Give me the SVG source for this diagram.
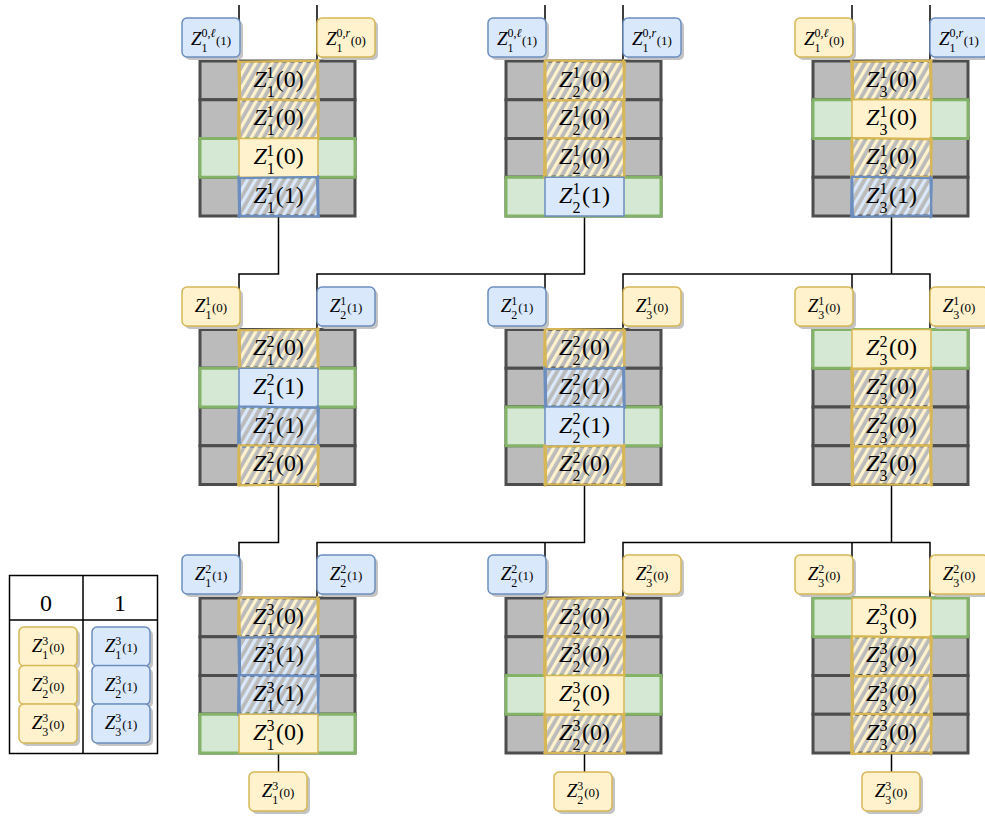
<svg xmlns="http://www.w3.org/2000/svg" xmlns:xlink="http://www.w3.org/1999/xlink" width="985" height="817" viewBox="0 0 985 817">
<style>
  .gr{fill:#bbbbbb;stroke:#4d4d4d;stroke-width:3}
  .gn{fill:#d5e8d4;stroke:#82b366;stroke-width:3}
  .cy{fill:#fff2cc;stroke:#d6b656;stroke-width:1.5}
  .cb{fill:#dae8fc;stroke:#6c8ebf;stroke-width:1.5}
  .ly{fill:#fff2cc;stroke:#d6b656;stroke-width:1.5}
  .lb{fill:#dae8fc;stroke:#6c8ebf;stroke-width:1.5}
  .sh{fill:#c4c4c4}
  .sk{fill:none;stroke-width:2.2;stroke-linecap:round}
  .wy{stroke:#d6b656}
  .wb{stroke:#6c8ebf}
  .ct{font-family:"Liberation Serif",serif;font-size:24px;text-anchor:middle;fill:#000}
  .lt{font-family:"Liberation Serif",serif;font-size:19px;text-anchor:middle;fill:#000}
  .s{font-size:16px}
  .ls{font-size:12px}
  .lp{font-size:13px}
  .i{font-style:italic}
  .cn{fill:none;stroke:#000;stroke-width:1.5}
  .lg{fill:none;stroke:#000;stroke-width:1.5}
  .hd{font-family:"Liberation Serif",serif;font-size:24px;text-anchor:middle}
</style>
<defs>
  <pattern id="pY" patternUnits="userSpaceOnUse" width="7" height="10" patternTransform="rotate(30)">
    <rect x="0" y="0" width="3.2" height="10" fill="#fff2cc"/>
  </pattern>
  <pattern id="pB" patternUnits="userSpaceOnUse" width="7" height="10" patternTransform="rotate(30)">
    <rect x="0" y="0" width="3.2" height="10" fill="#dae8fc"/>
  </pattern>
  <path id="skA" d="M-1,0.8 L79.8,-0.3 M79,-1.2 L79.6,39.8 M78,0.5 L78.8,38.6 M80,39.2 L-0.8,38.4 M0.2,40 L-0.6,-0.8 M1,38 L0.8,1.5"/>
  <path id="skB" d="M0,-0.6 L80,0.9 M78.4,-1 L79.5,39 M79.8,1 L78.9,40.2 M79,38.2 L-1,39.6 M0.8,39.8 L0.2,-1 M-0.9,37.5 L-0.4,0.6"/>
  <!-- hatched cells: yellow / blue, two sketch variants each -->
  <g id="hyA"><rect width="79" height="38.75" fill="url(#pY)"/><use href="#skA" class="sk wy"/></g>
  <g id="hyB"><rect width="79" height="38.75" fill="url(#pY)"/><use href="#skB" class="sk wy"/></g>
  <g id="hbA"><rect width="79" height="38.75" fill="url(#pB)"/><use href="#skA" class="sk wb"/></g>
  <g id="hbB"><rect width="79" height="38.75" fill="url(#pB)"/><use href="#skB" class="sk wb"/></g>
  <!-- four grey rows of a block -->
  <g id="base">
    <rect class="gr" x="0" y="0" width="155" height="38.75"/>
    <rect class="gr" x="0" y="38.75" width="155" height="38.75"/>
    <rect class="gr" x="0" y="77.5" width="155" height="38.75"/>
    <rect class="gr" x="0" y="116.25" width="155" height="38.75"/>
  </g>
  <rect id="shd" class="sh" x="3" y="3" width="58" height="39" rx="5"/>
</defs>

<!-- connectors -->
<g id="connectors" class="cn">
  <path d="M239,5 V61 M317,5 V61 M545,5 V61 M623,5 V61 M852,5 V61 M930,5 V61"/>
  <path d="M278.5,216 V274 H239 V329.5"/>
  <path d="M584.5,216 V274 H317 V329.5 M545,274 V329.5"/>
  <path d="M891.5,216 V274 H623 V329.5 M852,274 V329.5 M891.5,274 H930 V329.5"/>
  <path d="M278.5,484.5 V542.5 H239 V598"/>
  <path d="M584.5,484.5 V542.5 H317 V598 M545,542.5 V598"/>
  <path d="M891.5,484.5 V542.5 H623 V598 M852,542.5 V598 M891.5,542.5 H930 V598"/>
  <path d="M278.5,753 V772 M584.5,753 V772 M891.5,753 V772"/>
</g>

<!-- level 1 blocks -->
<g id="blk-1-1" transform="translate(200,61)">
  <use href="#base"/>
  <rect class="gn" x="0" y="77.5" width="155" height="38.75"/>
  <use href="#hyA" x="39" y="0"/>
  <use href="#hyB" x="39" y="38.75"/>
  <rect class="cy" x="39" y="77.5" width="79" height="38.75"/>
  <use href="#hbA" x="39" y="116.25"/>
  <text x="78.5" y="25.7" class="ct"><tspan class="i">Z</tspan><tspan class="s" dy="10">1</tspan><tspan class="s" dx="-8" dy="-18.7">1</tspan><tspan dx="1.5" dy="8.7">(0)</tspan></text>
  <text x="78.5" y="64.45" class="ct"><tspan class="i">Z</tspan><tspan class="s" dy="10">1</tspan><tspan class="s" dx="-8" dy="-18.7">1</tspan><tspan dx="1.5" dy="8.7">(0)</tspan></text>
  <text x="78.5" y="103.2" class="ct"><tspan class="i">Z</tspan><tspan class="s" dy="10">1</tspan><tspan class="s" dx="-8" dy="-18.7">1</tspan><tspan dx="1.5" dy="8.7">(0)</tspan></text>
  <text x="78.5" y="141.95" class="ct"><tspan class="i">Z</tspan><tspan class="s" dy="10">1</tspan><tspan class="s" dx="-8" dy="-18.7">1</tspan><tspan dx="1.5" dy="8.7">(1)</tspan></text>
</g>
<g id="blk-1-2" transform="translate(506,61)">
  <use href="#base"/>
  <rect class="gn" x="0" y="116.25" width="155" height="38.75"/>
  <use href="#hyB" x="39" y="0"/>
  <use href="#hyA" x="39" y="38.75"/>
  <use href="#hyB" x="39" y="77.5"/>
  <rect class="cb" x="39" y="116.25" width="79" height="38.75"/>
  <text x="78.5" y="25.7" class="ct"><tspan class="i">Z</tspan><tspan class="s" dy="10">2</tspan><tspan class="s" dx="-8" dy="-18.7">1</tspan><tspan dx="1.5" dy="8.7">(0)</tspan></text>
  <text x="78.5" y="64.45" class="ct"><tspan class="i">Z</tspan><tspan class="s" dy="10">2</tspan><tspan class="s" dx="-8" dy="-18.7">1</tspan><tspan dx="1.5" dy="8.7">(0)</tspan></text>
  <text x="78.5" y="103.2" class="ct"><tspan class="i">Z</tspan><tspan class="s" dy="10">2</tspan><tspan class="s" dx="-8" dy="-18.7">1</tspan><tspan dx="1.5" dy="8.7">(0)</tspan></text>
  <text x="78.5" y="141.95" class="ct"><tspan class="i">Z</tspan><tspan class="s" dy="10">2</tspan><tspan class="s" dx="-8" dy="-18.7">1</tspan><tspan dx="1.5" dy="8.7">(1)</tspan></text>
</g>
<g id="blk-1-3" transform="translate(813,61)">
  <use href="#base"/>
  <rect class="gn" x="0" y="38.75" width="155" height="38.75"/>
  <use href="#hyA" x="39" y="0"/>
  <rect class="cy" x="39" y="38.75" width="79" height="38.75"/>
  <use href="#hyB" x="39" y="77.5"/>
  <use href="#hbB" x="39" y="116.25"/>
  <text x="78.5" y="25.7" class="ct"><tspan class="i">Z</tspan><tspan class="s" dy="10">3</tspan><tspan class="s" dx="-8" dy="-18.7">1</tspan><tspan dx="1.5" dy="8.7">(0)</tspan></text>
  <text x="78.5" y="64.45" class="ct"><tspan class="i">Z</tspan><tspan class="s" dy="10">3</tspan><tspan class="s" dx="-8" dy="-18.7">1</tspan><tspan dx="1.5" dy="8.7">(0)</tspan></text>
  <text x="78.5" y="103.2" class="ct"><tspan class="i">Z</tspan><tspan class="s" dy="10">3</tspan><tspan class="s" dx="-8" dy="-18.7">1</tspan><tspan dx="1.5" dy="8.7">(0)</tspan></text>
  <text x="78.5" y="141.95" class="ct"><tspan class="i">Z</tspan><tspan class="s" dy="10">3</tspan><tspan class="s" dx="-8" dy="-18.7">1</tspan><tspan dx="1.5" dy="8.7">(1)</tspan></text>
</g>

<!-- level 2 blocks -->
<g id="blk-2-1" transform="translate(200,329.5)">
  <use href="#base"/>
  <rect class="gn" x="0" y="38.75" width="155" height="38.75"/>
  <use href="#hyA" x="39" y="0"/>
  <rect class="cb" x="39" y="38.75" width="79" height="38.75"/>
  <use href="#hbB" x="39" y="77.5"/>
  <use href="#hyB" x="39" y="116.25"/>
  <text x="78.5" y="25.7" class="ct"><tspan class="i">Z</tspan><tspan class="s" dy="10">1</tspan><tspan class="s" dx="-8" dy="-18.7">2</tspan><tspan dx="1.5" dy="8.7">(0)</tspan></text>
  <text x="78.5" y="64.45" class="ct"><tspan class="i">Z</tspan><tspan class="s" dy="10">1</tspan><tspan class="s" dx="-8" dy="-18.7">2</tspan><tspan dx="1.5" dy="8.7">(1)</tspan></text>
  <text x="78.5" y="103.2" class="ct"><tspan class="i">Z</tspan><tspan class="s" dy="10">1</tspan><tspan class="s" dx="-8" dy="-18.7">2</tspan><tspan dx="1.5" dy="8.7">(1)</tspan></text>
  <text x="78.5" y="141.95" class="ct"><tspan class="i">Z</tspan><tspan class="s" dy="10">1</tspan><tspan class="s" dx="-8" dy="-18.7">2</tspan><tspan dx="1.5" dy="8.7">(0)</tspan></text>
</g>
<g id="blk-2-2" transform="translate(506,329.5)">
  <use href="#base"/>
  <rect class="gn" x="0" y="77.5" width="155" height="38.75"/>
  <use href="#hyB" x="39" y="0"/>
  <use href="#hbA" x="39" y="38.75"/>
  <rect class="cb" x="39" y="77.5" width="79" height="38.75"/>
  <use href="#hyA" x="39" y="116.25"/>
  <text x="78.5" y="25.7" class="ct"><tspan class="i">Z</tspan><tspan class="s" dy="10">2</tspan><tspan class="s" dx="-8" dy="-18.7">2</tspan><tspan dx="1.5" dy="8.7">(0)</tspan></text>
  <text x="78.5" y="64.45" class="ct"><tspan class="i">Z</tspan><tspan class="s" dy="10">2</tspan><tspan class="s" dx="-8" dy="-18.7">2</tspan><tspan dx="1.5" dy="8.7">(1)</tspan></text>
  <text x="78.5" y="103.2" class="ct"><tspan class="i">Z</tspan><tspan class="s" dy="10">2</tspan><tspan class="s" dx="-8" dy="-18.7">2</tspan><tspan dx="1.5" dy="8.7">(1)</tspan></text>
  <text x="78.5" y="141.95" class="ct"><tspan class="i">Z</tspan><tspan class="s" dy="10">2</tspan><tspan class="s" dx="-8" dy="-18.7">2</tspan><tspan dx="1.5" dy="8.7">(0)</tspan></text>
</g>
<g id="blk-2-3" transform="translate(813,329.5)">
  <use href="#base"/>
  <rect class="gn" x="0" y="0" width="155" height="38.75"/>
  <rect class="cy" x="39" y="0" width="79" height="38.75"/>
  <use href="#hyA" x="39" y="38.75"/>
  <use href="#hyB" x="39" y="77.5"/>
  <use href="#hyA" x="39" y="116.25"/>
  <text x="78.5" y="25.7" class="ct"><tspan class="i">Z</tspan><tspan class="s" dy="10">3</tspan><tspan class="s" dx="-8" dy="-18.7">2</tspan><tspan dx="1.5" dy="8.7">(0)</tspan></text>
  <text x="78.5" y="64.45" class="ct"><tspan class="i">Z</tspan><tspan class="s" dy="10">3</tspan><tspan class="s" dx="-8" dy="-18.7">2</tspan><tspan dx="1.5" dy="8.7">(0)</tspan></text>
  <text x="78.5" y="103.2" class="ct"><tspan class="i">Z</tspan><tspan class="s" dy="10">3</tspan><tspan class="s" dx="-8" dy="-18.7">2</tspan><tspan dx="1.5" dy="8.7">(0)</tspan></text>
  <text x="78.5" y="141.95" class="ct"><tspan class="i">Z</tspan><tspan class="s" dy="10">3</tspan><tspan class="s" dx="-8" dy="-18.7">2</tspan><tspan dx="1.5" dy="8.7">(0)</tspan></text>
</g>

<!-- level 3 blocks -->
<g id="blk-3-1" transform="translate(200,598)">
  <use href="#base"/>
  <rect class="gn" x="0" y="116.25" width="155" height="38.75"/>
  <use href="#hyB" x="39" y="0"/>
  <use href="#hbA" x="39" y="38.75"/>
  <use href="#hbB" x="39" y="77.5"/>
  <rect class="cy" x="39" y="116.25" width="79" height="38.75"/>
  <text x="78.5" y="25.7" class="ct"><tspan class="i">Z</tspan><tspan class="s" dy="10">1</tspan><tspan class="s" dx="-8" dy="-18.7">3</tspan><tspan dx="1.5" dy="8.7">(0)</tspan></text>
  <text x="78.5" y="64.45" class="ct"><tspan class="i">Z</tspan><tspan class="s" dy="10">1</tspan><tspan class="s" dx="-8" dy="-18.7">3</tspan><tspan dx="1.5" dy="8.7">(1)</tspan></text>
  <text x="78.5" y="103.2" class="ct"><tspan class="i">Z</tspan><tspan class="s" dy="10">1</tspan><tspan class="s" dx="-8" dy="-18.7">3</tspan><tspan dx="1.5" dy="8.7">(1)</tspan></text>
  <text x="78.5" y="141.95" class="ct"><tspan class="i">Z</tspan><tspan class="s" dy="10">1</tspan><tspan class="s" dx="-8" dy="-18.7">3</tspan><tspan dx="1.5" dy="8.7">(0)</tspan></text>
</g>
<g id="blk-3-2" transform="translate(506,598)">
  <use href="#base"/>
  <rect class="gn" x="0" y="77.5" width="155" height="38.75"/>
  <use href="#hyA" x="39" y="0"/>
  <use href="#hyB" x="39" y="38.75"/>
  <rect class="cy" x="39" y="77.5" width="79" height="38.75"/>
  <use href="#hyA" x="39" y="116.25"/>
  <text x="78.5" y="25.7" class="ct"><tspan class="i">Z</tspan><tspan class="s" dy="10">2</tspan><tspan class="s" dx="-8" dy="-18.7">3</tspan><tspan dx="1.5" dy="8.7">(0)</tspan></text>
  <text x="78.5" y="64.45" class="ct"><tspan class="i">Z</tspan><tspan class="s" dy="10">2</tspan><tspan class="s" dx="-8" dy="-18.7">3</tspan><tspan dx="1.5" dy="8.7">(0)</tspan></text>
  <text x="78.5" y="103.2" class="ct"><tspan class="i">Z</tspan><tspan class="s" dy="10">2</tspan><tspan class="s" dx="-8" dy="-18.7">3</tspan><tspan dx="1.5" dy="8.7">(0)</tspan></text>
  <text x="78.5" y="141.95" class="ct"><tspan class="i">Z</tspan><tspan class="s" dy="10">2</tspan><tspan class="s" dx="-8" dy="-18.7">3</tspan><tspan dx="1.5" dy="8.7">(0)</tspan></text>
</g>
<g id="blk-3-3" transform="translate(813,598)">
  <use href="#base"/>
  <rect class="gn" x="0" y="0" width="155" height="38.75"/>
  <rect class="cy" x="39" y="0" width="79" height="38.75"/>
  <use href="#hyB" x="39" y="38.75"/>
  <use href="#hyA" x="39" y="77.5"/>
  <use href="#hyB" x="39" y="116.25"/>
  <text x="78.5" y="25.7" class="ct"><tspan class="i">Z</tspan><tspan class="s" dy="10">3</tspan><tspan class="s" dx="-8" dy="-18.7">3</tspan><tspan dx="1.5" dy="8.7">(0)</tspan></text>
  <text x="78.5" y="64.45" class="ct"><tspan class="i">Z</tspan><tspan class="s" dy="10">3</tspan><tspan class="s" dx="-8" dy="-18.7">3</tspan><tspan dx="1.5" dy="8.7">(0)</tspan></text>
  <text x="78.5" y="103.2" class="ct"><tspan class="i">Z</tspan><tspan class="s" dy="10">3</tspan><tspan class="s" dx="-8" dy="-18.7">3</tspan><tspan dx="1.5" dy="8.7">(0)</tspan></text>
  <text x="78.5" y="141.95" class="ct"><tspan class="i">Z</tspan><tspan class="s" dy="10">3</tspan><tspan class="s" dx="-8" dy="-18.7">3</tspan><tspan dx="1.5" dy="8.7">(0)</tspan></text>
</g>

<!-- level 0 inputs -->
<g id="in-1-l" transform="translate(182,18)"><use href="#shd"/><rect class="lb" width="58" height="39" rx="5"/>
  <text x="29" y="27" class="lt"><tspan class="i">Z</tspan><tspan class="ls" dy="7">1</tspan><tspan class="ls" dx="-6" dy="-15">0,<tspan class="i">ℓ</tspan></tspan><tspan class="lp" dx="0.5" dy="8">(1)</tspan></text></g>
<g id="in-1-r" transform="translate(317,18)"><use href="#shd"/><rect class="ly" width="58" height="39" rx="5"/>
  <text x="29" y="27" class="lt"><tspan class="i">Z</tspan><tspan class="ls" dy="7">1</tspan><tspan class="ls" dx="-6" dy="-15">0,<tspan class="i">r</tspan></tspan><tspan class="lp" dx="0.5" dy="8">(0)</tspan></text></g>
<g id="in-2-l" transform="translate(488,18)"><use href="#shd"/><rect class="lb" width="58" height="39" rx="5"/>
  <text x="29" y="27" class="lt"><tspan class="i">Z</tspan><tspan class="ls" dy="7">1</tspan><tspan class="ls" dx="-6" dy="-15">0,<tspan class="i">ℓ</tspan></tspan><tspan class="lp" dx="0.5" dy="8">(1)</tspan></text></g>
<g id="in-2-r" transform="translate(623,18)"><use href="#shd"/><rect class="lb" width="58" height="39" rx="5"/>
  <text x="29" y="27" class="lt"><tspan class="i">Z</tspan><tspan class="ls" dy="7">1</tspan><tspan class="ls" dx="-6" dy="-15">0,<tspan class="i">r</tspan></tspan><tspan class="lp" dx="0.5" dy="8">(1)</tspan></text></g>
<g id="in-3-l" transform="translate(795,18)"><use href="#shd"/><rect class="ly" width="58" height="39" rx="5"/>
  <text x="29" y="27" class="lt"><tspan class="i">Z</tspan><tspan class="ls" dy="7">1</tspan><tspan class="ls" dx="-6" dy="-15">0,<tspan class="i">ℓ</tspan></tspan><tspan class="lp" dx="0.5" dy="8">(0)</tspan></text></g>
<g id="in-3-r" transform="translate(930,18)"><use href="#shd"/><rect class="lb" width="58" height="39" rx="5"/>
  <text x="29" y="27" class="lt"><tspan class="i">Z</tspan><tspan class="ls" dy="7">1</tspan><tspan class="ls" dx="-6" dy="-15">0,<tspan class="i">r</tspan></tspan><tspan class="lp" dx="0.5" dy="8">(1)</tspan></text></g>

<!-- level 1 outputs feeding level 2 -->
<g id="l1-1-l" transform="translate(182,287)"><use href="#shd"/><rect class="ly" width="58" height="39" rx="5"/>
  <text x="29" y="25" class="lt"><tspan class="i">Z</tspan><tspan class="ls" dy="7">1</tspan><tspan class="ls" dx="-6" dy="-14">1</tspan><tspan class="lp" dx="1" dy="7">(0)</tspan></text></g>
<g id="l1-1-r" transform="translate(317,287)"><use href="#shd"/><rect class="lb" width="58" height="39" rx="5"/>
  <text x="29" y="25" class="lt"><tspan class="i">Z</tspan><tspan class="ls" dy="7">2</tspan><tspan class="ls" dx="-6" dy="-14">1</tspan><tspan class="lp" dx="1" dy="7">(1)</tspan></text></g>
<g id="l1-2-l" transform="translate(488,287)"><use href="#shd"/><rect class="lb" width="58" height="39" rx="5"/>
  <text x="29" y="25" class="lt"><tspan class="i">Z</tspan><tspan class="ls" dy="7">2</tspan><tspan class="ls" dx="-6" dy="-14">1</tspan><tspan class="lp" dx="1" dy="7">(1)</tspan></text></g>
<g id="l1-2-r" transform="translate(623,287)"><use href="#shd"/><rect class="ly" width="58" height="39" rx="5"/>
  <text x="29" y="25" class="lt"><tspan class="i">Z</tspan><tspan class="ls" dy="7">3</tspan><tspan class="ls" dx="-6" dy="-14">1</tspan><tspan class="lp" dx="1" dy="7">(0)</tspan></text></g>
<g id="l1-3-l" transform="translate(795,287)"><use href="#shd"/><rect class="ly" width="58" height="39" rx="5"/>
  <text x="29" y="25" class="lt"><tspan class="i">Z</tspan><tspan class="ls" dy="7">3</tspan><tspan class="ls" dx="-6" dy="-14">1</tspan><tspan class="lp" dx="1" dy="7">(0)</tspan></text></g>
<g id="l1-3-r" transform="translate(930,287)"><use href="#shd"/><rect class="ly" width="58" height="39" rx="5"/>
  <text x="29" y="25" class="lt"><tspan class="i">Z</tspan><tspan class="ls" dy="7">3</tspan><tspan class="ls" dx="-6" dy="-14">1</tspan><tspan class="lp" dx="1" dy="7">(0)</tspan></text></g>

<!-- level 2 outputs feeding level 3 -->
<g id="l2-1-l" transform="translate(182,555)"><use href="#shd"/><rect class="lb" width="58" height="39" rx="5"/>
  <text x="29" y="25" class="lt"><tspan class="i">Z</tspan><tspan class="ls" dy="7">1</tspan><tspan class="ls" dx="-6" dy="-14">2</tspan><tspan class="lp" dx="1" dy="7">(1)</tspan></text></g>
<g id="l2-1-r" transform="translate(317,555)"><use href="#shd"/><rect class="lb" width="58" height="39" rx="5"/>
  <text x="29" y="25" class="lt"><tspan class="i">Z</tspan><tspan class="ls" dy="7">2</tspan><tspan class="ls" dx="-6" dy="-14">2</tspan><tspan class="lp" dx="1" dy="7">(1)</tspan></text></g>
<g id="l2-2-l" transform="translate(488,555)"><use href="#shd"/><rect class="lb" width="58" height="39" rx="5"/>
  <text x="29" y="25" class="lt"><tspan class="i">Z</tspan><tspan class="ls" dy="7">2</tspan><tspan class="ls" dx="-6" dy="-14">2</tspan><tspan class="lp" dx="1" dy="7">(1)</tspan></text></g>
<g id="l2-2-r" transform="translate(623,555)"><use href="#shd"/><rect class="ly" width="58" height="39" rx="5"/>
  <text x="29" y="25" class="lt"><tspan class="i">Z</tspan><tspan class="ls" dy="7">3</tspan><tspan class="ls" dx="-6" dy="-14">2</tspan><tspan class="lp" dx="1" dy="7">(0)</tspan></text></g>
<g id="l2-3-l" transform="translate(795,555)"><use href="#shd"/><rect class="ly" width="58" height="39" rx="5"/>
  <text x="29" y="25" class="lt"><tspan class="i">Z</tspan><tspan class="ls" dy="7">3</tspan><tspan class="ls" dx="-6" dy="-14">2</tspan><tspan class="lp" dx="1" dy="7">(0)</tspan></text></g>
<g id="l2-3-r" transform="translate(930,555)"><use href="#shd"/><rect class="ly" width="58" height="39" rx="5"/>
  <text x="29" y="25" class="lt"><tspan class="i">Z</tspan><tspan class="ls" dy="7">3</tspan><tspan class="ls" dx="-6" dy="-14">2</tspan><tspan class="lp" dx="1" dy="7">(0)</tspan></text></g>

<!-- level 3 outputs -->
<g id="out-1" transform="translate(249,772)"><use href="#shd"/><rect class="ly" width="58" height="39" rx="5"/>
  <text x="29" y="25" class="lt"><tspan class="i">Z</tspan><tspan class="ls" dy="7">1</tspan><tspan class="ls" dx="-6" dy="-14">3</tspan><tspan class="lp" dx="1" dy="7">(0)</tspan></text></g>
<g id="out-2" transform="translate(554,772)"><use href="#shd"/><rect class="ly" width="58" height="39" rx="5"/>
  <text x="29" y="25" class="lt"><tspan class="i">Z</tspan><tspan class="ls" dy="7">2</tspan><tspan class="ls" dx="-6" dy="-14">3</tspan><tspan class="lp" dx="1" dy="7">(0)</tspan></text></g>
<g id="out-3" transform="translate(862,772)"><use href="#shd"/><rect class="ly" width="58" height="39" rx="5"/>
  <text x="29" y="25" class="lt"><tspan class="i">Z</tspan><tspan class="ls" dy="7">3</tspan><tspan class="ls" dx="-6" dy="-14">3</tspan><tspan class="lp" dx="1" dy="7">(0)</tspan></text></g>

<!-- legend -->
<g id="legend">
  <rect class="lg" x="9.5" y="575.5" width="148" height="178"/>
  <path class="lg" d="M9.5,620 H157.5 M83,575.5 V753.5"/>
  <text x="46" y="611" class="hd">0</text>
  <text x="120" y="611" class="hd">1</text>
  <g transform="translate(19,627)"><use href="#shd"/><rect class="ly" width="58" height="39" rx="5"/>
    <text x="29" y="25" class="lt"><tspan class="i">Z</tspan><tspan class="ls" dy="7">1</tspan><tspan class="ls" dx="-6" dy="-14">3</tspan><tspan class="lp" dx="1" dy="7">(0)</tspan></text></g>
  <g transform="translate(19,665.5)"><use href="#shd"/><rect class="ly" width="58" height="39" rx="5"/>
    <text x="29" y="25" class="lt"><tspan class="i">Z</tspan><tspan class="ls" dy="7">2</tspan><tspan class="ls" dx="-6" dy="-14">3</tspan><tspan class="lp" dx="1" dy="7">(0)</tspan></text></g>
  <g transform="translate(19,704)"><use href="#shd"/><rect class="ly" width="58" height="39" rx="5"/>
    <text x="29" y="25" class="lt"><tspan class="i">Z</tspan><tspan class="ls" dy="7">3</tspan><tspan class="ls" dx="-6" dy="-14">3</tspan><tspan class="lp" dx="1" dy="7">(0)</tspan></text></g>
  <g transform="translate(92,627)"><use href="#shd"/><rect class="lb" width="58" height="39" rx="5"/>
    <text x="29" y="25" class="lt"><tspan class="i">Z</tspan><tspan class="ls" dy="7">1</tspan><tspan class="ls" dx="-6" dy="-14">3</tspan><tspan class="lp" dx="1" dy="7">(1)</tspan></text></g>
  <g transform="translate(92,665.5)"><use href="#shd"/><rect class="lb" width="58" height="39" rx="5"/>
    <text x="29" y="25" class="lt"><tspan class="i">Z</tspan><tspan class="ls" dy="7">2</tspan><tspan class="ls" dx="-6" dy="-14">3</tspan><tspan class="lp" dx="1" dy="7">(1)</tspan></text></g>
  <g transform="translate(92,704)"><use href="#shd"/><rect class="lb" width="58" height="39" rx="5"/>
    <text x="29" y="25" class="lt"><tspan class="i">Z</tspan><tspan class="ls" dy="7">3</tspan><tspan class="ls" dx="-6" dy="-14">3</tspan><tspan class="lp" dx="1" dy="7">(1)</tspan></text></g>
</g>
</svg>
